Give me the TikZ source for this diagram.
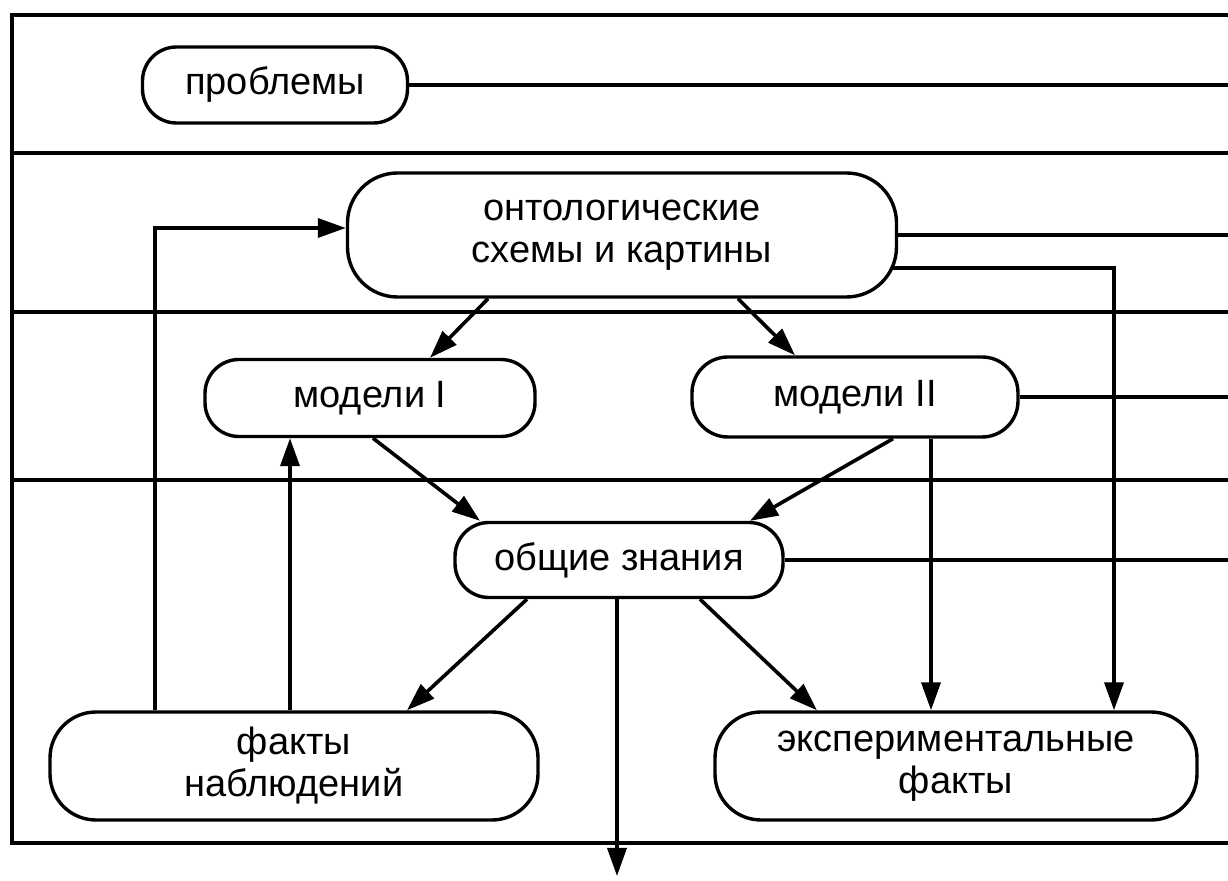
\documentclass[tikz,border=0pt]{standalone}
\usepackage{fontspec}
\setmainfont{Liberation Sans}
\usetikzlibrary{arrows.meta}
\begin{document}
\begin{tikzpicture}[x=0.5pt,y=-0.5pt,
  rbox/.style={draw, line width=1.7pt, fill=white, inner sep=0pt, align=center,
    font=\fontsize{19}{21}\selectfont},
  ln/.style={line width=1.8pt},
  arr/.style={ln, -{Triangle[length=14pt,width=9.5pt]}},
  frm/.style={line width=1.9pt},
]
\useasboundingbox (0,0) rectangle (1228,881);

% frame and level separators
\draw[frm] (1228,15) -- (12,15) -- (12,843) -- (1228,843);
\draw[frm] (12,153) -- (1228,153);
\draw[frm] (12,312) -- (1228,312);
\draw[frm] (12,480) -- (1228,480);

\coordinate (RE) at (1228,0);
\coordinate (OUT) at (617,876);

% nodes
\node[rbox, minimum width=132.5pt, minimum height=38pt, rounded corners=17pt] (prob) at (275,85) {проблемы};
\node[rbox, minimum width=274.5pt, minimum height=62pt, rounded corners=25pt] (ont) at (622,235) {онтологические\\схемы и картины};
\node[rbox, minimum width=165pt, minimum height=38.5pt, rounded corners=17pt] (m1) at (370,398) {модели I};
\node[rbox, minimum width=163pt, minimum height=40pt, rounded corners=18pt] (m2) at (855,397) {модели II};
\node[rbox, minimum width=164pt, minimum height=37.5pt, rounded corners=17pt] (gen) at (619,560) {общие знания};
\node[rbox, minimum width=244pt, minimum height=54pt, rounded corners=23pt] (fobs) at (294,766) {факты\\наблюдений};
\node[rbox, minimum width=241pt, minimum height=54pt, rounded corners=23pt] (fexp) at (956,766) {экспериментальные\\факты};

% lines to the right edge
\draw[ln] (prob.east) -- (prob.east -| RE);
\draw[ln] (ont.east) -- (ont.east -| RE);
\draw[ln] (m2.east) -- (m2.east -| RE);
\draw[ln] (gen.east) -- (gen.east -| RE);

% arrows
\draw[arr] ([xshift=-2.5pt,yshift=-16.5pt]ont.east) -| ([xshift=79pt]fexp.north);
\draw[arr] ([xshift=-67pt]ont.south) -- ([xshift=30pt]m1.north);
\draw[arr] ([xshift=58pt]ont.south) -- ([xshift=-30pt]m2.north);
\draw[arr] ([xshift=1.5pt]m1.south) -- ([xshift=-69.5pt]gen.north);
\draw[arr] ([xshift=19pt]m2.south) -- ([xshift=65.5pt]gen.north);
\draw[arr] ([xshift=38pt]m2.south) -- ([xshift=38pt]m2.south |- fexp.north);
\draw[arr] ([xshift=-46pt]gen.south) -- ([xshift=56.5pt]fobs.north);
\draw[arr] ([xshift=40.5pt]gen.south) -- ([xshift=-69.5pt]fexp.north);
\draw[arr] ([xshift=-1pt]gen.south) -- (OUT);
\draw[arr] ([xshift=-69.5pt]fobs.north) |- ([yshift=3.5pt]ont.west);
\draw[arr] ([xshift=-2pt]fobs.north) -- ([xshift=-2pt]fobs.north |- m1.south);
\end{tikzpicture}
\end{document}
